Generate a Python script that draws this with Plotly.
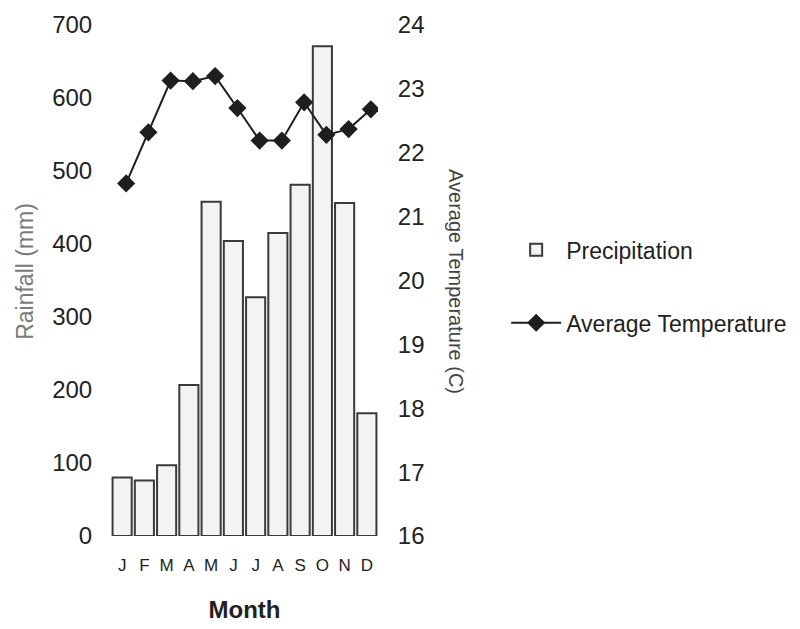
import plotly.graph_objects as go

months = ["J", "F", "M", "A", "M", "J", "J", "A", "S", "O", "N", "D"]
month_index = list(range(12))
precipitation = [80, 76, 97, 207, 458, 404, 327, 415, 481, 671, 456, 168]
avg_temperature = [21.52, 22.32, 23.13, 23.12, 23.2, 22.7, 22.19, 22.19, 22.79, 22.28, 22.37, 22.68]

FONT = "Liberation Sans, Arial, sans-serif"

fig = go.Figure()
fig.add_trace(go.Bar(
    x=month_index, y=precipitation, name="Precipitation",
    marker=dict(color="#f3f3f3", line=dict(color="#3a3a3a", width=2)),
    legendgroup="a",
))
fig.add_trace(go.Scatter(
    x=month_index, y=avg_temperature, name="Average Temperature",
    mode="lines+markers", xaxis="x2", yaxis="y2",
    line=dict(color="#1e1e1e", width=2),
    marker=dict(symbol="diamond", size=14, color="#1e1e1e"),
    legendgroup="b",
))

fig.update_layout(
    width=800, height=629,
    margin=dict(l=111, r=422, t=25, b=93, autoexpand=False),
    paper_bgcolor="white", plot_bgcolor="white",
    font=dict(family=FONT, color="#222"),
    bargap=0.14,
    showlegend=True,
    legend=dict(x=1.48, y=0.602, xanchor="left", yanchor="top",
                font=dict(size=23, color="#222"), tracegroupgap=40,
                bgcolor="rgba(0,0,0,0)", itemwidth=50),
    xaxis=dict(range=[-0.5, 11.5], tickvals=month_index, ticktext=months,
               showgrid=False, zeroline=False, showline=False,
               ticks="outside", ticklen=14, tickcolor="rgba(0,0,0,0)",
               tickfont=dict(size=17, color="#222"),
               title=dict(text="<b>Month</b>", font=dict(size=24, color="#222"), standoff=26)),
    xaxis2=dict(range=[-0.68, 11.32], overlaying="x", visible=False),
    yaxis=dict(range=[0, 700], dtick=100, showgrid=False, zeroline=False, showline=False,
               ticks="outside", ticklen=13, tickcolor="rgba(0,0,0,0)",
               tickfont=dict(size=24, color="#222")),
    yaxis2=dict(range=[16, 24], dtick=1, overlaying="y", side="right",
                showgrid=False, zeroline=False, showline=False,
                ticks="outside", ticklen=14, tickcolor="rgba(0,0,0,0)",
                tickfont=dict(size=24, color="#222")),
    annotations=[
        dict(text="Rainfall (mm)", textangle=-90,
             x=-0.322, y=0.517, xref="paper", yref="paper",
             xanchor="center", yanchor="middle",
             showarrow=False, font=dict(size=23, color="#7a7a7a", family=FONT)),
        dict(text="Average Temperature (C)", textangle=90,
             x=1.292, y=0.497, xref="paper", yref="paper",
             xanchor="center", yanchor="middle",
             showarrow=False, font=dict(size=20, color="#444", family=FONT)),
    ],
)

fig.write_html("out.html")
